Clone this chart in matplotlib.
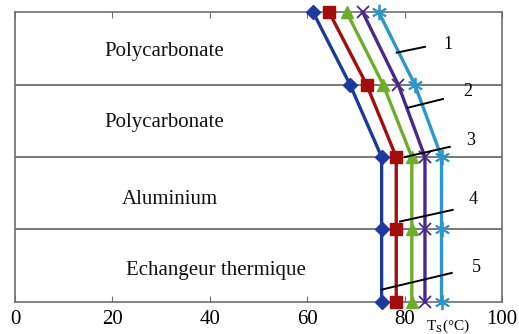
"""Surface temperature profile across the collector layers (Ts, five cases)."""

import matplotlib.pyplot as plt
import numpy as np

plt.rcParams["font.family"] = ["Liberation Serif", "DejaVu Serif"]
plt.rcParams["mathtext.fontset"] = "stix"

# interfaces from top (4) to bottom (0)
depth = [4, 3, 2, 1, 0]
layer_names = ["Polycarbonate", "Polycarbonate", "Aluminium", "Echangeur thermique"]
layer_x = [30.7, 30.7, 31.9, 41.3]
layer_y = [3.45, 2.47, 1.41, 0.44]

# surface temperature (°C) at each interface, cases 1..5
ts_case1 = [61.2, 68.8, 75.3, 75.3, 75.3]
ts_case2 = [64.5, 72.2, 78.3, 78.3, 78.3]
ts_case3 = [68.1, 75.6, 81.5, 81.5, 81.5]
ts_case4 = [71.4, 78.7, 84.2, 84.2, 84.2]
ts_case5 = [74.7, 82.1, 87.6, 87.6, 87.6]

case_labels = ["1", "2", "3", "4", "5"]
# leader lines: (x0, y0, x1, y1) and label position
leader_lines = [
    (78.4, 3.44, 84.2, 3.52),
    (80.7, 2.68, 87.9, 2.80),
    (80.1, 2.00, 89.3, 2.14),
    (79.1, 1.11, 89.9, 1.27),
    (75.3, 0.17, 89.7, 0.40),
]
label_pos = [(88.9, 3.55), (93.0, 2.90), (93.6, 2.23), (94.1, 1.41), (94.8, 0.47)]

fig = plt.figure(figsize=(5.19, 3.34), dpi=100)
ax = fig.add_axes([0.029, 0.096, 0.938, 0.868])

grey = "#6e6e6e"
for yi in [1, 2, 3]:
    ax.axhline(yi, color=grey, lw=1.3, zorder=1)

styles = [
    (ts_case1, "#1c3a9e", dict(marker="D", ms=7)),
    (ts_case2, "#a50c0c", dict(marker="s", ms=9)),
    (ts_case3, "#6cae28", dict(marker="^", ms=9)),
    (ts_case4, "#48288a", dict(marker="x", ms=9, mew=1.3)),
    (ts_case5, "#2a98cc", dict(marker=(6, 2, 0), ms=11, mew=1.3)),
]
for ts, col, mk in styles:
    ax.plot(ts, depth, color=col, lw=2.4, mfc=col, mec=col, clip_on=False,
            zorder=3, **mk)

for (x0, y0, x1, y1), lab, (lx, ly) in zip(leader_lines, case_labels, label_pos):
    ax.plot([x0, x1], [y0, y1], color="black", lw=1.4, zorder=4)
    ax.text(lx, ly, lab, fontsize=13, ha="center", va="center")

for name, lx, ly in zip(layer_names, layer_x, layer_y):
    ax.text(lx, ly, name, fontsize=15, ha="center", va="center",
            color="#111111")

ax.set_xlim(0, 100)
ax.set_ylim(0, 4)
ax.set_xticks(np.arange(0, 101, 20))
ax.set_yticks([])
ax.tick_params(axis="x", direction="in", top=True, length=4, color=grey,
               labelsize=15, pad=6)
for s in ax.spines.values():
    s.set_color(grey)
    s.set_linewidth(1.2)

ax.text(89.0, -0.34, r"T$_{\mathrm{S}}$(°C)", fontsize=11, ha="center",
        va="center")

fig.savefig("out.png", dpi=100)
